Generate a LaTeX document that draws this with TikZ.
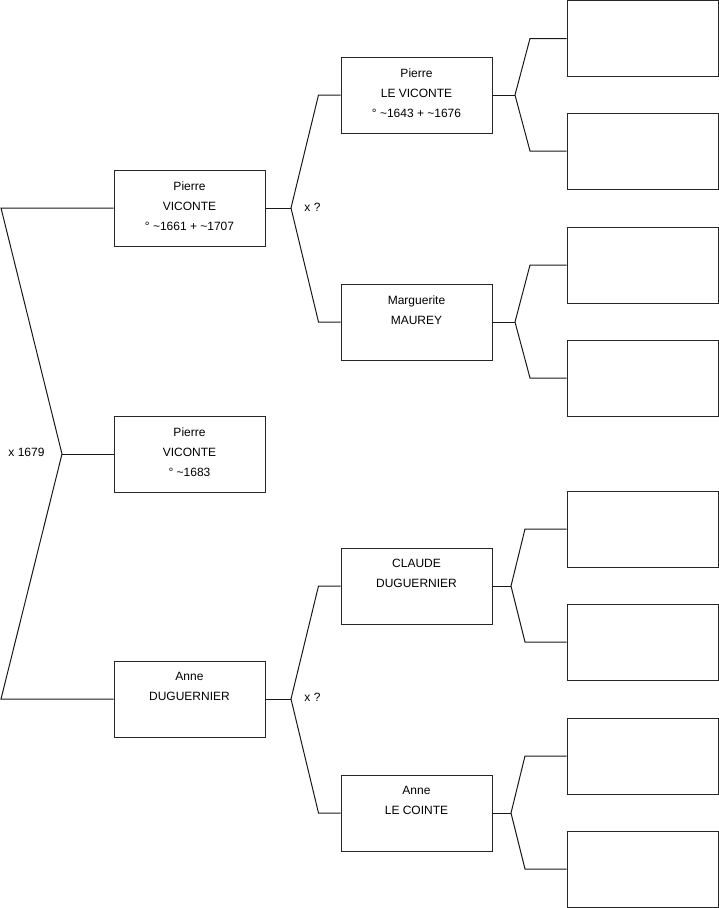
\documentclass[tikz,border=0pt]{standalone}
\usepackage{fontspec}
\setmainfont{Liberation Sans}
\begin{document}
\begin{tikzpicture}[x=1pt,y=-1pt,
  line width=1pt,
  box/.style={draw=black!85, minimum width=151pt, minimum height=76pt, inner sep=0pt},
  txt/.style={font=\fontsize{12}{20}\selectfont, align=center, anchor=north, inner sep=0pt},
  lbl/.style={font=\fontsize{12}{14}\selectfont, inner sep=0pt},
  conn/.style={draw=black!90}]
\useasboundingbox (0,0) rectangle (719,908);

% generation 1
\node[box] (g1p) at (189.5,208) {};
\node[box] (g1c) at (189.5,454) {};
\node[box] (g1m) at (189.5,699) {};
% generation 2
\node[box] (g2a) at (416.5,95) {};
\node[box] (g2b) at (416.5,322) {};
\node[box] (g2c) at (416.5,586) {};
\node[box] (g2d) at (416.5,813) {};
% generation 3
\node[box] (g3a) at (642.5,38.5) {};
\node[box] (g3b) at (642.5,151) {};
\node[box] (g3c) at (642.5,265) {};
\node[box] (g3d) at (642.5,378) {};
\node[box] (g3e) at (642.5,529) {};
\node[box] (g3f) at (642.5,642) {};
\node[box] (g3g) at (642.5,756) {};
\node[box] (g3h) at (642.5,869) {};

% texts
\node[txt] (t1p) at ([yshift=-11.5pt]g1p.north) {Pierre\\VICONTE\\° \textasciitilde1661 + \textasciitilde1707};
\node[txt] (t1c) at ([yshift=-11.5pt]g1c.north) {Pierre\\VICONTE\\° \textasciitilde1683};
\node[txt] (t1m) at ([yshift=-11.5pt]g1m.north) {Anne\\DUGUERNIER};
\node[txt] (t2a) at ([yshift=-11.5pt]g2a.north) {Pierre\\LE VICONTE\\° \textasciitilde1643 + \textasciitilde1676};
\node[txt] (t2b) at ([yshift=-11.5pt]g2b.north) {Marguerite\\MAUREY};
\node[txt] (t2c) at ([yshift=-11.5pt]g2c.north) {CLAUDE\\DUGUERNIER};
\node[txt] (t2d) at ([yshift=-11.5pt]g2d.north) {Anne\\LE COINTE};

% connectors gen 0 -> gen 1
\coordinate (a1) at (1,208);
\coordinate (a2) at (62,454);
\coordinate (a3) at (1,699);
\draw[conn] (g1p.west) -- (a1) -- (a2) -- (a3) -- (g1m.west);
\draw[conn] (a2) -- (g1c.west);
\node[lbl] (m0) at (26.5,452) {x 1679};

% father's parents
\coordinate (b1) at (291,208);
\coordinate (b2) at (318.5,95);
\coordinate (b3) at (318.5,322);
\draw[conn] (g1p.east) -- (b1);
\draw[conn] (g2a.west) -- (b2) -- (b1) -- (b3) -- (g2b.west);
\node[lbl] (m1) at (312.5,207) {x ?};

% mother's parents
\coordinate (c1) at (291,699);
\coordinate (c2) at (318.5,586);
\coordinate (c3) at (318.5,813);
\draw[conn] (g1m.east) -- (c1);
\draw[conn] (g2c.west) -- (c2) -- (c1) -- (c3) -- (g2d.west);
\node[lbl] (m2) at (312.5,697) {x ?};

% generation 2 -> 3
\coordinate (d1) at (515,95);
\coordinate (d2) at (530,38.5);
\coordinate (d3) at (530,151);
\draw[conn] (g2a.east) -- (d1);
\draw[conn] (g3a.west) -- (d2) -- (d1) -- (d3) -- (g3b.west);

\coordinate (e1) at (515,322);
\coordinate (e2) at (530,265);
\coordinate (e3) at (530,378);
\draw[conn] (g2b.east) -- (e1);
\draw[conn] (g3c.west) -- (e2) -- (e1) -- (e3) -- (g3d.west);

\coordinate (f1) at (511,586);
\coordinate (f2) at (525,529);
\coordinate (f3) at (525,642);
\draw[conn] (g2c.east) -- (f1);
\draw[conn] (g3e.west) -- (f2) -- (f1) -- (f3) -- (g3f.west);

\coordinate (h1) at (511,813);
\coordinate (h2) at (525,756);
\coordinate (h3) at (525,869);
\draw[conn] (g2d.east) -- (h1);
\draw[conn] (g3g.west) -- (h2) -- (h1) -- (h3) -- (g3h.west);
\end{tikzpicture}
\end{document}
